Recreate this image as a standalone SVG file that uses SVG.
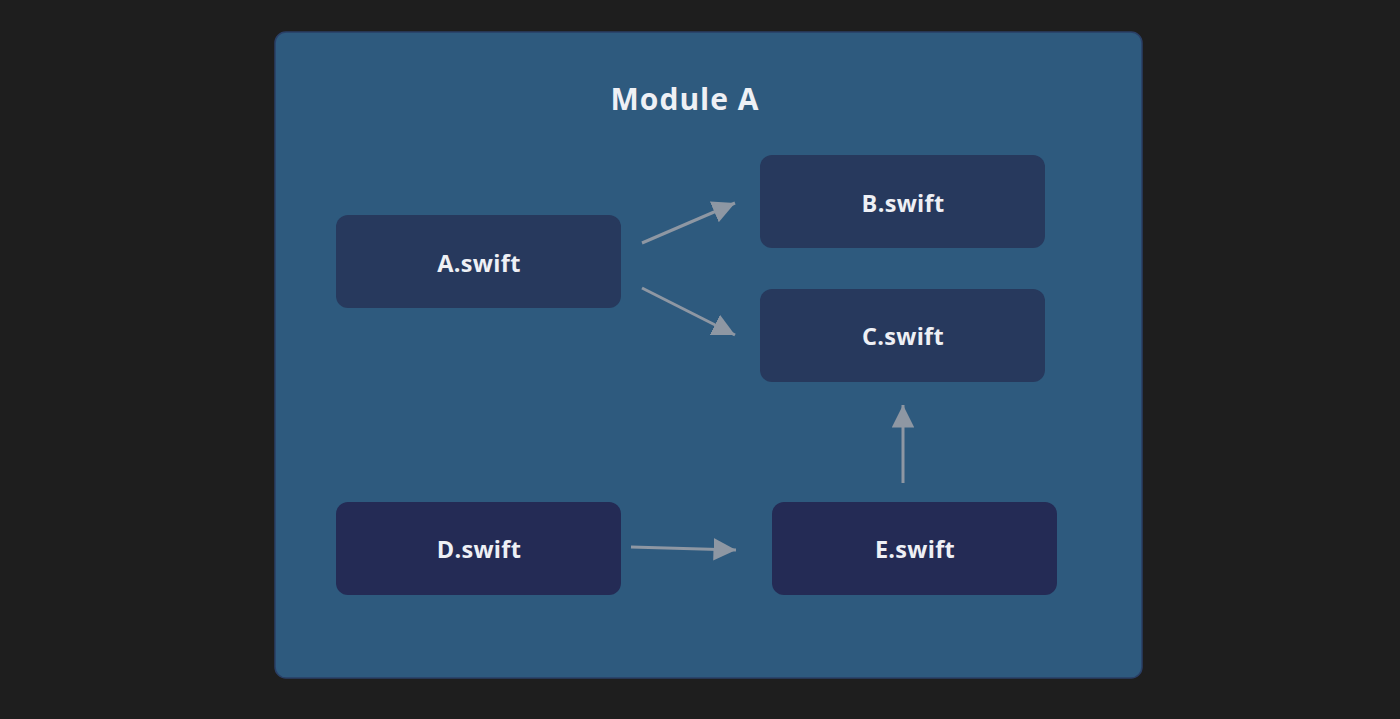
<svg xmlns="http://www.w3.org/2000/svg" width="1400" height="719" viewBox="0 0 1400 719">
<defs>
<style>
.node{stroke:none}
.l1{fill:#27395d}
.l2{fill:#242b55}
.lbl{font-family:"Open Sans","DejaVu Sans",sans-serif;font-weight:700;font-size:23.5px;letter-spacing:0.3px;fill:#eef0f5;text-anchor:middle}
.title{font-family:"Open Sans","DejaVu Sans",sans-serif;font-weight:700;font-size:30px;letter-spacing:1px;fill:#eef0f5;text-anchor:middle}
.conn{stroke:#8e97a3;stroke-width:3;fill:none}
</style>
<marker id="ah" viewBox="0 0 10 10" refX="10" refY="5" markerWidth="7.5" markerHeight="7.5" markerUnits="strokeWidth" orient="auto">
<path d="M0,0 L10,5 L0,10 z" fill="#8e97a3"/>
</marker>
</defs>
<rect x="0" y="0" width="1400" height="719" fill="#1e1e1e"/>
<g id="module-a">
<rect x="275" y="32" width="867" height="646" rx="11" fill="#2e5a7e" stroke="#2a3f66" stroke-width="1.5"/>
<text class="title" x="685" y="110">Module A</text>
</g>
<g id="node-a"><rect class="node l1" x="336" y="215" width="285" height="93" rx="12"/><text class="lbl" x="479" y="272">A.swift</text></g>
<g id="node-b"><rect class="node l1" x="760" y="155" width="285" height="93" rx="12"/><text class="lbl" x="903" y="212">B.swift</text></g>
<g id="node-c"><rect class="node l1" x="760" y="289" width="285" height="93" rx="12"/><text class="lbl" x="903" y="345">C.swift</text></g>
<g id="node-d"><rect class="node l2" x="336" y="502" width="285" height="93" rx="12"/><text class="lbl" x="479" y="558">D.swift</text></g>
<g id="node-e"><rect class="node l2" x="772" y="502" width="285" height="93" rx="12"/><text class="lbl" x="915" y="558">E.swift</text></g>
<g id="connectors">
<line class="conn" x1="642" y1="243" x2="735" y2="203" marker-end="url(#ah)"/>
<line class="conn" x1="642" y1="288" x2="735" y2="335" marker-end="url(#ah)"/>
<line class="conn" x1="631" y1="547" x2="736" y2="550" marker-end="url(#ah)"/>
<line class="conn" x1="903" y1="483" x2="903" y2="405" marker-end="url(#ah)"/>
</g>
</svg>
